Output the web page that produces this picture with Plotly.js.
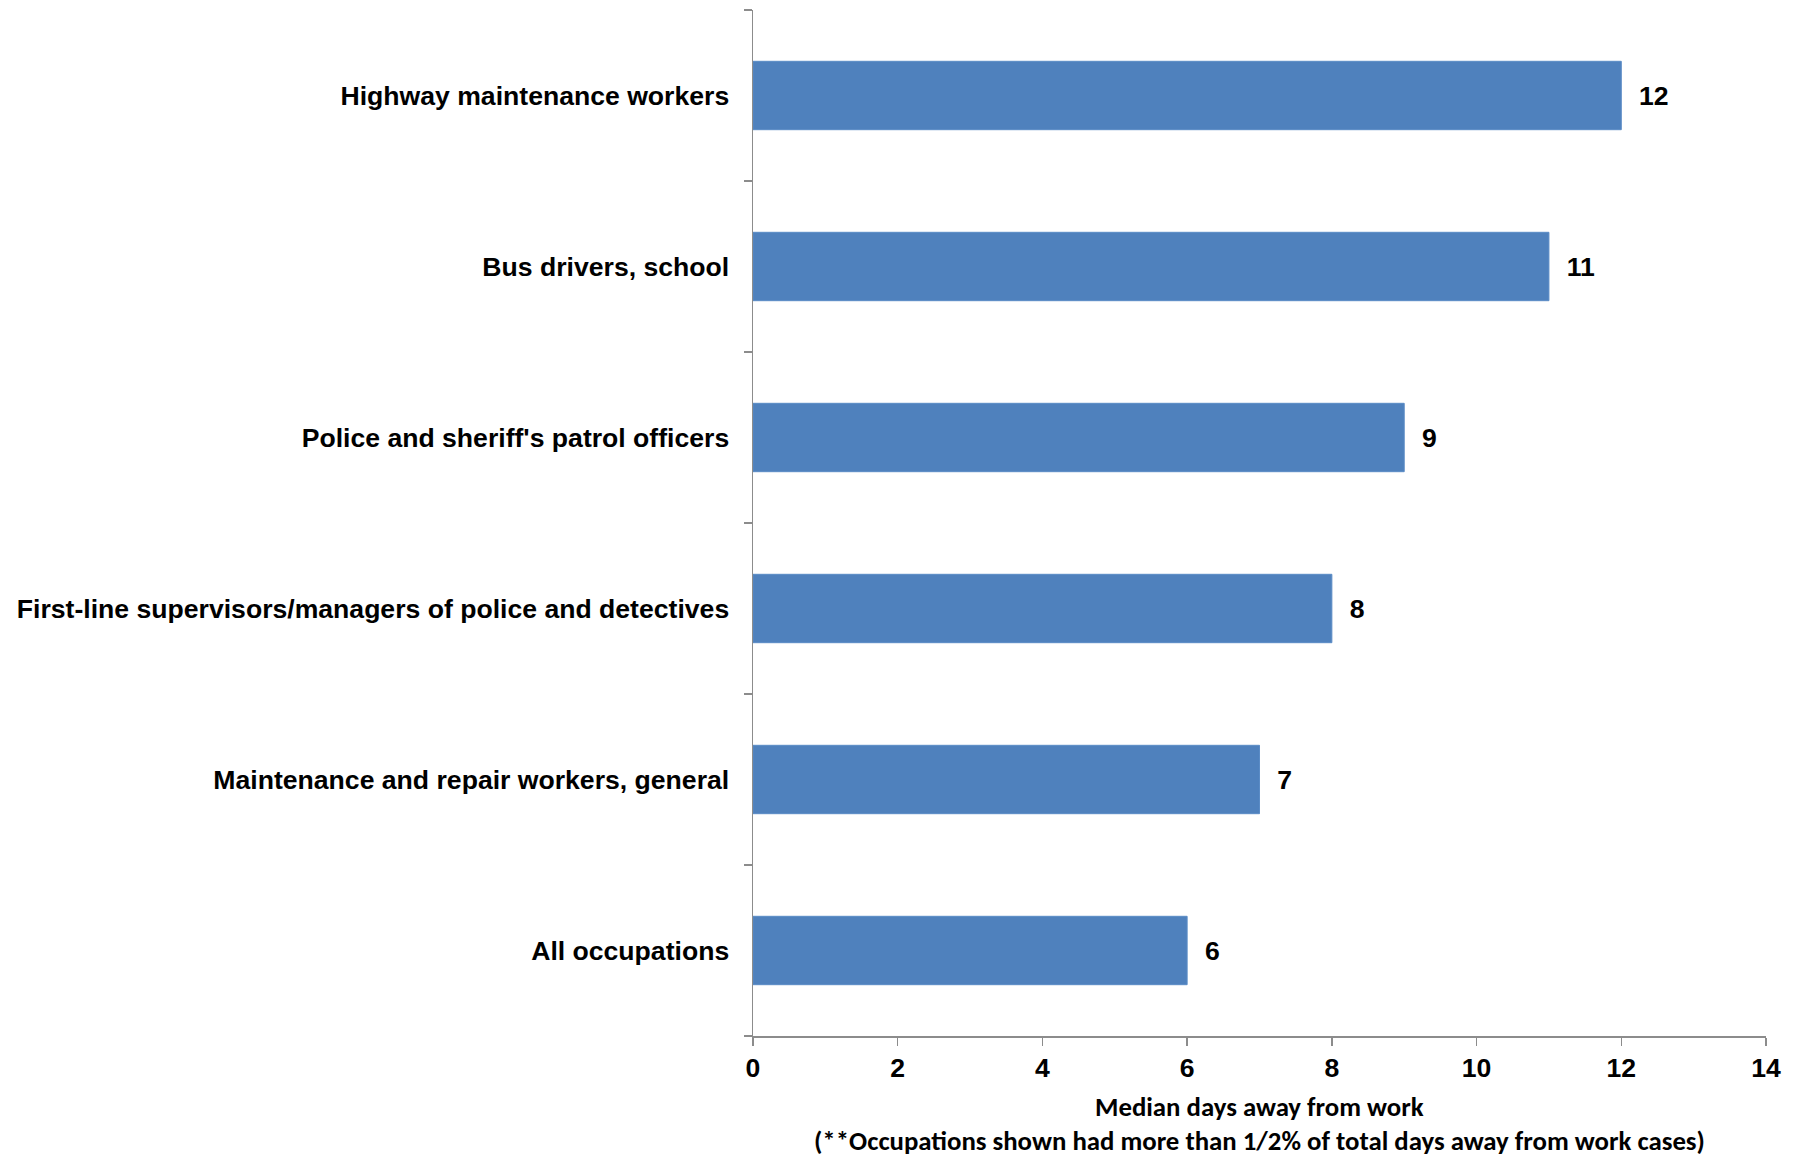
<!DOCTYPE html>
<html>
<head>
<meta charset="utf-8">
<script src="https://cdn.plot.ly/plotly-3.0.1.min.js"></script>
<style>html,body{margin:0;padding:0;background:#fff}#chart{width:1794px;height:1156px}</style>
</head>
<body>
<div id="chart"></div>
<script>
const categories = [
  "All occupations",
  "Maintenance and repair workers, general",
  "First-line supervisors/managers of police and detectives",
  "Police and sheriff's patrol officers",
  "Bus drivers, school",
  "Highway maintenance workers"
];
const medianDays = [6, 7, 8, 9, 11, 12];
const xTickValues = [0, 2, 4, 6, 8, 10, 12, 14];
const axisTitleLine1 = "Median days away from work";
const axisTitleLine2 = "(**Occupations shown had more than 1/2% of total days away from work cases)";

const labelFont = {family: "Arial", size: 26.6, color: "#000", weight: "bold"};

const trace = {
  type: "bar",
  orientation: "h",
  y: categories,
  x: medianDays,
  marker: {color: "#4F81BD", line: {color: "#5B8CC6", width: 1}},
  width: 0.4,
  text: medianDays.map(v => "\u00a0\u00a0" + v),
  texttemplate: "%{text}",
  textposition: "outside",
  textfont: labelFont,
  cliponaxis: false,
  hoverinfo: "skip"
};

const layout = {
  width: 1794,
  height: 1156,
  margin: {l: 753, r: 28, t: 10, b: 120},
  paper_bgcolor: "#fff",
  plot_bgcolor: "#fff",
  showlegend: false,
  font: {family: "Arial", color: "#000"},
  xaxis: {
    range: [0, 14],
    tickvals: xTickValues,
    ticktext: xTickValues.map(String),
    showgrid: false,
    zeroline: false,
    showline: true,
    linecolor: "#8c8c8c",
    linewidth: 1.5,
    ticks: "outside",
    ticklen: 8,
    tickcolor: "#8c8c8c",
    tickwidth: 1.5,
    tickfont: labelFont,
    ticklabelstandoff: 0
  },
  yaxis: {
    type: "category",
    categoryorder: "array",
    categoryarray: categories,
    showgrid: false,
    zeroline: false,
    showline: true,
    linecolor: "#8c8c8c",
    linewidth: 1.5,
    ticks: "outside",
    ticklen: 8,
    tickcolor: "#8c8c8c",
    tickwidth: 1.5,
    tickson: "boundaries",
    tickfont: labelFont,
    ticklabelstandoff: 17
  },
  annotations: [
    {text: axisTitleLine1, xref: "paper", yref: "paper", x: 0.5, y: -0.0692, xanchor: "center", yanchor: "middle", showarrow: false,
     font: {family: "Carlito, Open Sans, sans-serif", size: 26.8, color: "#000", weight: "bold"}},
    {text: axisTitleLine2, xref: "paper", yref: "paper", x: 0.5, y: -0.1023, xanchor: "center", yanchor: "middle", showarrow: false,
     font: {family: "Carlito, Open Sans, sans-serif", size: 26.8, color: "#000", weight: "bold"}}
  ]
};

Plotly.newPlot("chart", [trace], layout, {displayModeBar: false, staticPlot: true});
</script>
</body>
</html>
